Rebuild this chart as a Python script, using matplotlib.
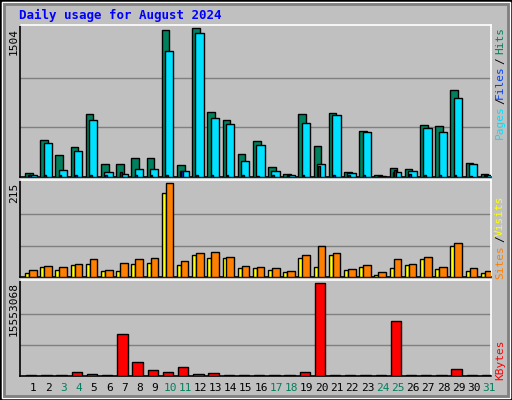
import matplotlib
matplotlib.use('Agg')
import matplotlib.pyplot as plt
from matplotlib.patches import Rectangle
import numpy as np

days = list(range(1, 32))
weekend = [3, 4, 10, 11, 17, 18, 24, 25, 31]

hits = [44, 371, 218, 299, 636, 136, 136, 187, 187, 1484, 126, 1504, 657, 575, 228, 361,
        105, 34, 636, 310, 647, 54, 463, 24, 95, 85, 524, 514, 881, 146, 34]
files = [24, 340, 75, 259, 575, 54, 34, 85, 85, 1269, 65, 1453, 596, 534, 157, 320,
         65, 24, 544, 136, 626, 44, 453, 10, 54, 65, 493, 453, 800, 136, 24]
pages = [20, 20, 18, 20, 25, 20, 54, 25, 25, 20, 65, 20, 25, 25, 20, 15,
         20, 10, 25, 116, 20, 20, 20, 5, 75, 30, 20, 20, 25, 15, 10]
sites = [9, 22, 15, 27, 29, 13, 13, 29, 32, 192, 27, 50, 43, 43, 20, 20,
         15, 11, 43, 22, 50, 15, 22, 4, 20, 27, 41, 18, 71, 13, 9]
visits = [17, 25, 22, 29, 41, 17, 32, 41, 43, 215, 36, 55, 57, 46, 25, 22,
          20, 13, 50, 71, 55, 18, 27, 11, 41, 29, 46, 22, 78, 20, 13]
kbytes = [170000, 170000, 170000, 740000, 400000, 170000, 7000000, 2390000, 1080000, 740000,
          1540000, 400000, 570000, 170000, 170000, 170000, 170000, 170000, 740000, 15553068,
          170000, 170000, 170000, 170000, 9120000, 170000, 170000, 170000, 1250000, 170000, 170000]

BG = '#C0C0C0'
W, H = 512, 400
fig = plt.figure(figsize=(W / 100, H / 100), dpi=100, facecolor=BG)

# bevelled frame
fig.patches.append(Rectangle((0, 0), 1, 1, transform=fig.transFigure, fill=False,
                             ec='black', lw=2))
fig.patches.append(Rectangle((2 / W, 2 / H), 1 - 4 / W, 1 - 4 / H, transform=fig.transFigure,
                             fill=False, ec='white', lw=1))
fig.patches.append(Rectangle((4 / W, 4 / H), 1 - 8 / W, 1 - 8 / H, transform=fig.transFigure,
                             fill=False, ec='#808080', lw=2))

mono = 'DejaVu Sans Mono'
fig.text(19 / W, 1 - 15 / H, 'Daily usage for August 2024', color='#0000FF',
         family=mono, weight='bold', fontsize=9, va='center')


def panel(y0, y1):
    ax = fig.add_axes([20 / W, 1 - y1 / H, 471 / W, (y1 - y0) / H])
    ax.set_facecolor(BG)
    ax.set_xlim(0, 31)
    ax.set_xticks([])
    ax.set_yticks([])
    for s in ax.spines.values():
        s.set_linewidth(1.2)
    ax.spines['top'].set_color('white')
    ax.spines['right'].set_color('white')
    ax.spines['left'].set_color('black')
    ax.spines['bottom'].set_color('black')
    return ax


x = np.arange(31)
ek = dict(edgecolor='black', linewidth=1, zorder=3, align='edge')

# hits / files / pages
ax1 = panel(25, 177)
ax1.set_ylim(0, max(hits) * 1.02)
for g in (1 / 3, 2 / 3):
    ax1.axhline(max(hits) * g, color='#808080', lw=1, zorder=1)
ax1.bar(x + 0.33, hits, 0.5, color='#00805C', **ek)
ax1.bar(x + 0.55, files, 0.55, color='#00E0FF', **ek)
ax1.bar(x + 0.6, pages, 0.12, color='#0040FF', **ek)

# sites / visits
ax2 = panel(180, 277)
ax2.set_ylim(0, max(visits) * 1.03)
for g in (1 / 3, 2 / 3):
    ax2.axhline(max(visits) * g, color='#808080', lw=1, zorder=1)
ax2.bar(x + 0.33, sites, 0.27, color='#FFFF00', **ek)
ax2.bar(x + 0.59, visits, 0.5, color='#FF8000', **ek)

# kbytes
ax3 = panel(280, 376)
ax3.set_ylim(0, max(kbytes) * 1.03)
for g in (1 / 3, 2 / 3):
    ax3.axhline(max(kbytes) * g, color='#808080', lw=1, zorder=1)
ax3.bar(x + 0.4, kbytes, 0.68, color='#FF0000', **ek)

# day labels
for d in days:
    px = 20 + (d - 1 + 0.87) * 471 / 31
    fig.text(px / W, 1 - 388 / H, str(d), ha='center', va='center', fontsize=8,
             family=mono, color='#00805C' if d in weekend else 'black')

# left max labels
for txt, ytop in (('1504', 28), ('215', 183), ('15553068', 282)):
    fig.text(14 / W, 1 - ytop / H, txt, rotation=90, ha='center', va='top',
             fontsize=8, family=mono)

# right legends
for txt, yc, col in (('Pages', 122, '#00E0FF'), ('/', 101, 'black'), ('Files', 82, '#0040FF'),
                     ('/', 61, 'black'), ('Hits', 40, '#00805C'),
                     ('Sites', 262, '#FF8000'), ('/', 239, 'black'), ('Visits', 216, '#FFFF00'),
                     ('KBytes', 360, '#FF0000')):
    fig.text(500 / W, 1 - yc / H, txt, rotation=90, ha='center', va='center',
             fontsize=8, family=mono, color=col)

fig.savefig('out.png', dpi=100, facecolor=BG)
